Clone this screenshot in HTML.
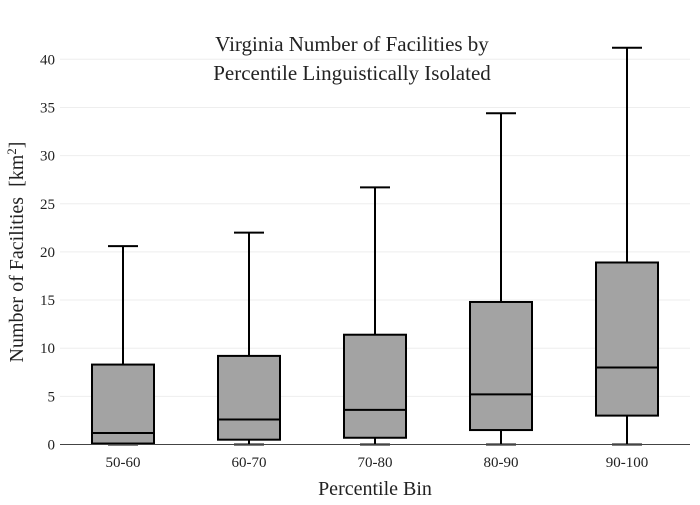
<!DOCTYPE html>
<html><head><meta charset="utf-8"><style>
body{margin:0;background:#fff;}
svg text{font-family:"Liberation Serif",serif;fill:#222;}
</style></head><body>
<svg id="chart" width="700" height="500" xmlns="http://www.w3.org/2000/svg">
<g id="grid"></g>
<g id="boxes"></g>
<g id="yticks"></g>
<g id="xticks"></g>
<line x1="60" x2="690" y1="444.5" y2="444.5" stroke="#444" stroke-width="1"/>
<text x="352" y="51" text-anchor="middle" font-size="21">Virginia Number of Facilities by</text>
<text x="352" y="80" text-anchor="middle" font-size="21">Percentile Linguistically Isolated</text>
<text x="375" y="495" text-anchor="middle" font-size="20">Percentile Bin</text>
<text transform="translate(23,252) rotate(-90)" text-anchor="middle" font-size="20">Number of Facilities&#160; [km<tspan baseline-shift="super" font-size="13">2</tspan>]</text>
</svg>
<script>
const categories=["50-60","60-70","70-80","80-90","90-100"];
const mins=[0,0,0,0,0];
const q1s=[0.1,0.5,0.7,1.5,3.0];
const medians=[1.2,2.6,3.6,5.2,8.0];
const q3s=[8.3,9.2,11.4,14.8,18.9];
const maxs=[20.6,22.0,26.7,34.4,41.2];
const yTicks=[0,5,10,15,20,25,30,35,40];
const NS="http://www.w3.org/2000/svg";
const y=v=>444.5-v*9.63;
const band=126, x0=60;
const xc=i=>x0+band*(i+0.5);
function mk(tag,attrs,parent){const e=document.createElementNS(NS,tag);for(const k in attrs)e.setAttribute(k,attrs[k]);parent.appendChild(e);return e;}
const grid=document.getElementById('grid'),yt=document.getElementById('yticks'),xt=document.getElementById('xticks'),bx=document.getElementById('boxes');
yTicks.forEach(t=>{
 if(t>0){const l=mk('line',{x1:60,x2:690,y1:y(t),y2:y(t),stroke:'#eee','stroke-width':1},grid);
 
 }
 const tx=mk('text',{x:55,y:y(t)+5,'text-anchor':'end','font-size':15},yt);tx.textContent=t;
 
 
});
categories.forEach((c,i)=>{
 const cx=xc(i),w=62,cw=30;
 const g=mk('g',{},bx);
 
 
 const st={stroke:'#000','stroke-width':2,fill:'none'};
 mk('line',Object.assign({x1:cx,x2:cx,y1:y(q3s[i]),y2:y(maxs[i])},st),g);
 mk('line',Object.assign({x1:cx,x2:cx,y1:y(q1s[i]),y2:y(mins[i])},st),g);
 mk('line',Object.assign({x1:cx-cw/2,x2:cx+cw/2,y1:y(maxs[i]),y2:y(maxs[i])},st),g);
 mk('line',Object.assign({x1:cx-cw/2,x2:cx+cw/2,y1:y(mins[i]),y2:y(mins[i])},st),g);
 mk('rect',{x:cx-w/2,y:y(q3s[i]),width:w,height:y(q1s[i])-y(q3s[i]),fill:'#a3a3a3',stroke:'#000','stroke-width':2},g);
 mk('line',Object.assign({x1:cx-w/2,x2:cx+w/2,y1:y(medians[i]),y2:y(medians[i])},st),g);
 const tx=mk('text',{x:cx,y:467,'text-anchor':'middle','font-size':15},xt);tx.textContent=c;
 
 
});
</script>
</body></html>
